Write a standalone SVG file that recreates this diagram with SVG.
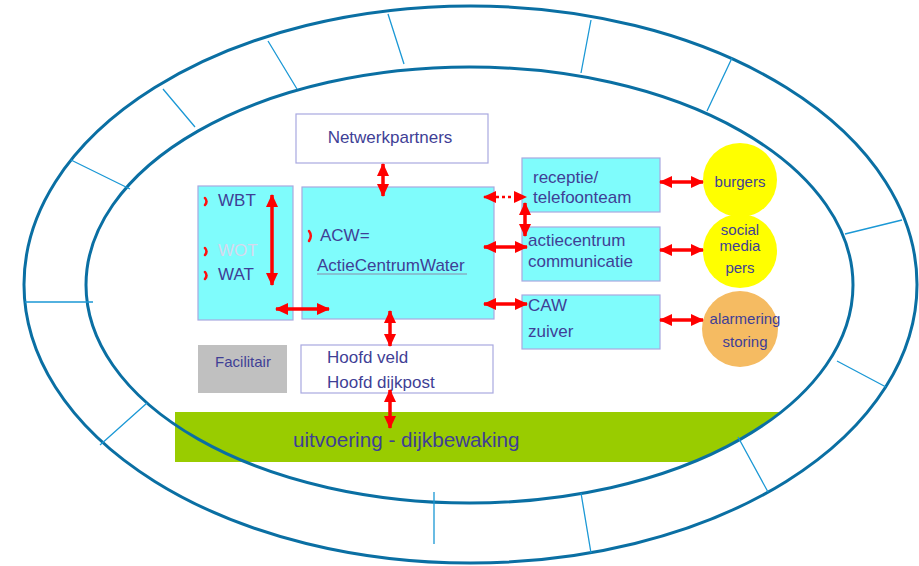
<svg xmlns="http://www.w3.org/2000/svg" width="919" height="566" viewBox="0 0 919 566">
<style>
.t{font-family:"Liberation Sans",Arial,sans-serif;fill:#3f3f96;font-size:17px}
.s15{font-size:15px}
.box{fill:#7ffcfc;stroke:#a8a8e0;stroke-width:1.2}
.wbox{fill:#ffffff;stroke:#a8a8e0;stroke-width:1.2}
.ell{fill:none;stroke:#0a6fa3;stroke-width:3}
.tick{stroke:#1b98d5;stroke-width:1.3;fill:none}
.arr{stroke:#ff0000;stroke-width:3.5;fill:none;marker-start:url(#ah);marker-end:url(#ah)}
.bul{stroke:#ff1010;stroke-width:2.5;fill:none;stroke-linecap:round}
</style>
<defs>
<marker id="ah" markerUnits="userSpaceOnUse" markerWidth="14" markerHeight="14" viewBox="0 0 14 14" refX="12" refY="7" orient="auto-start-reverse">
<path d="M0,1 L13,7 L0,13 Z" fill="#ff0000"/>
</marker>
</defs>
<rect width="919" height="566" fill="#ffffff"/>
<path id="band" d="M175,412 H780 A383.5,218 0 0,1 693.5,462 H175 Z" fill="#99cc00"/>
<g id="rings">
<ellipse class="ell" cx="470.5" cy="284.5" rx="446.5" ry="278.5"/>
<ellipse class="ell" cx="469.5" cy="285" rx="383.5" ry="218"/>
<path class="tick" d="M71,160 L130,189 M163,89 L195,127 M268,41 L297,89 M388,14 L404,64 M591,20 L581,73 M732,58 L707,111 M902,220 L845,234 M886,387 L837,361 M768,492 L738,437 M591,553 L581,493 M434,544 L434,492 M100,445 L147,403 M25,302 L93,302"/>
</g>
<g id="netwerkpartners">
<rect class="wbox" x="296" y="114" width="192" height="49"/>
<text class="t" x="390" y="143" text-anchor="middle">Netwerkpartners</text>
</g>
<g id="wbt">
<rect class="box" x="198" y="186" width="95" height="134"/>
<path class="bul" d="M205,198 Q208,201.5 205,205 M205,248 Q208,251.5 205,255 M205,272 Q208,275.5 205,279"/>
<text class="t" x="218" y="206">WBT</text>
<text class="t" x="218" y="256" style="fill:#d8d8ec">WOT</text>
<text class="t" x="218" y="280">WAT</text>
</g>
<g id="acw">
<rect class="box" x="302" y="187" width="192" height="132"/>
<path class="bul" d="M309,231 Q312.5,235.5 309,241"/>
<text class="t" x="320" y="241">ACW=</text>
<text class="t" x="317" y="271">ActieCentrumWater</text>
<line x1="317" y1="274" x2="467" y2="274" stroke="#8a8aa8" stroke-width="1"/>
</g>
<g id="receptie">
<rect class="box" x="522" y="158" width="138" height="54"/>
<text class="t" x="533" y="183">receptie/</text>
<text class="t" x="533" y="203">telefoonteam</text>
</g>
<g id="actiecentrum">
<rect class="box" x="522" y="227" width="138" height="54"/>
<text class="t" x="528" y="246">actiecentrum</text>
<text class="t" x="528" y="267">communicatie</text>
</g>
<g id="caw">
<rect class="box" x="522" y="295" width="138" height="54"/>
<text class="t" x="528" y="311">CAW</text>
<text class="t" x="528" y="337">zuiver</text>
</g>
<g id="burgers">
<circle cx="740" cy="180" r="37" fill="#ffff00"/>
<text class="t s15" x="740" y="187" text-anchor="middle">burgers</text>
</g>
<g id="social">
<circle cx="740" cy="251" r="37" fill="#ffff00"/>
<text class="t s15" x="740" y="235" text-anchor="middle">social</text>
<text class="t s15" x="740" y="251" text-anchor="middle">media</text>
<text class="t s15" x="740" y="273" text-anchor="middle">pers</text>
</g>
<g id="alarmering">
<circle cx="740" cy="329" r="38" fill="#f5bb62"/>
<text class="t s15" x="745" y="324" text-anchor="middle">alarmering</text>
<text class="t s15" x="745" y="347" text-anchor="middle">storing</text>
</g>
<g id="facilitair">
<rect x="198" y="345" width="89" height="48" fill="#c0c0c0"/>
<text class="t s15" x="243" y="367" text-anchor="middle">Facilitair</text>
</g>
<g id="hoofd">
<rect class="wbox" x="301" y="345" width="192" height="48"/>
<text class="t" x="327" y="363">Hoofd veld</text>
<text class="t" x="327" y="388">Hoofd dijkpost</text>
</g>
<g id="uitvoering">
<text class="t" x="293" y="447" style="font-size:20.7px">uitvoering - dijkbewaking</text>
</g>
<g id="connectors">
<line class="arr" x1="272" y1="195" x2="272" y2="285"/>
<line class="arr" x1="276" y1="309" x2="329" y2="309"/>
<line class="arr" x1="383" y1="164" x2="383" y2="196"/>
<line class="arr" x1="390" y1="311" x2="390" y2="346"/>
<line class="arr" x1="390" y1="390" x2="390" y2="428"/>
<line class="arr" x1="484" y1="197" x2="526" y2="197" style="stroke-width:2.5;stroke-dasharray:3 3"/>
<line class="arr" x1="525" y1="203" x2="525" y2="236"/>
<line class="arr" x1="484" y1="247" x2="527" y2="247"/>
<line class="arr" x1="484" y1="304" x2="527" y2="304"/>
<line class="arr" x1="660" y1="182" x2="703" y2="182"/>
<line class="arr" x1="660" y1="250" x2="703" y2="250"/>
<line class="arr" x1="660" y1="320" x2="703" y2="320"/>
</g>
</svg>
